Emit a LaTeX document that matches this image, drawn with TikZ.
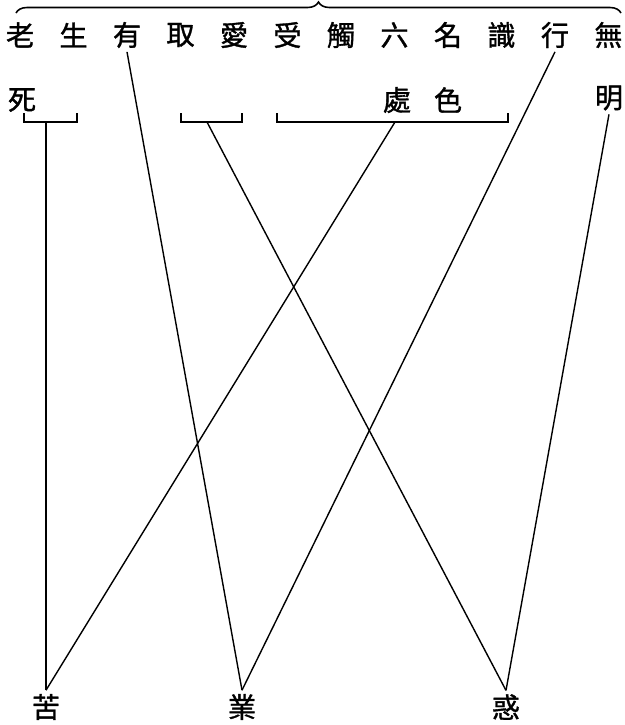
\documentclass[tikz,border=0pt]{standalone}
\usepackage{fontspec}
\newfontfamily\cjk[FakeBold=1.2]{Noto Sans CJK TC}
\usetikzlibrary{calc, positioning}
\usetikzlibrary{decorations.pathreplacing}

\begin{document}
\begin{tikzpicture}[x=0.02cm, y=-0.02cm,
  zi/.style={font=\cjk\fontsize{16}{16}\selectfont, inner sep=2pt},
  link/.style={line width=0.8pt},
  bracket/.style={line width=0.9pt}]
\def\topy{35}
\def\midy{100}
\def\boty{707}
\def\bary{122}
\def\gap{53.5}
\pgfmathsetmacro{\ticky}{\bary-9}
\useasboundingbox (0,0) rectangle (625,725);

\foreach \c [count=\i] in {老,生,有,取,愛,受,觸,六,名,識,行,無}
  \node[zi] (t\i) at ({20+(\i-1)*\gap},\topy) {\c};
\draw[line width=0.9pt, decorate, decoration={brace, amplitude=0.22cm}] (16,13) -- (621,13);

\node[zi] (si) at (22,\midy) {死};
\node[zi] (chu) at (397,\midy) {處};
\node[zi] (se) at (448,\midy) {色};
\node[zi] (ming) at (609,98) {明};

\draw[bracket] (24,\ticky) -- (24,\bary) -- (77,\bary) -- (77,\ticky);
\draw[bracket] (181,\ticky) -- (181,\bary) -- (242,\bary) -- (242,\ticky);
\draw[bracket] (277,\ticky) -- (277,\bary) -- (508,\bary) -- (508,\ticky);
\coordinate (b1) at (46,\bary);
\coordinate (b2) at (207,\bary);
\coordinate (b3) at (395,\bary);

\node[zi] (ku) at (46,\boty) {苦};
\node[zi] (ye) at (242,\boty) {業};
\node[zi] (huo) at (506,\boty) {惑};

\draw[link] (b1) -- (ku.north);
\draw[link] (b3) -- (ku.north);
\draw[link] (t3.south) -- (ye.north);
\draw[link] (t11.south) -- (ye.north);
\draw[link] (b2) -- (huo.north);
\draw[link] (ming.south) -- (huo.north);
\end{tikzpicture}
\end{document}
